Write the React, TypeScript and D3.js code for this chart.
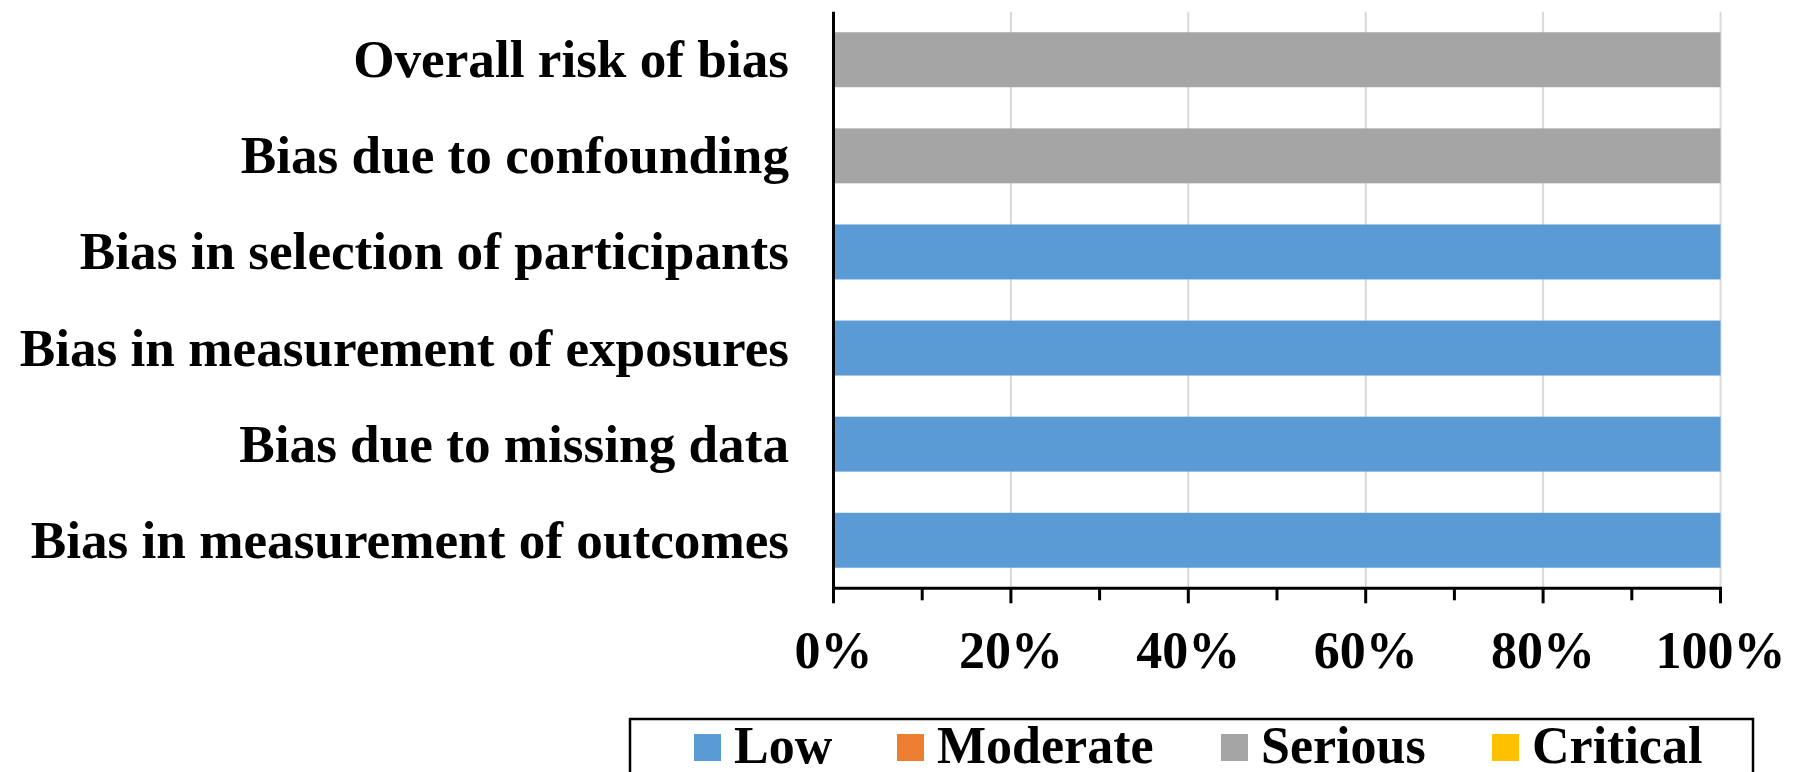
import React from "react";
import * as d3 from "d3";

const categories = [
  "Overall risk of bias",
  "Bias due to confounding",
  "Bias in selection of participants",
  "Bias in measurement of exposures",
  "Bias due to missing data",
  "Bias in measurement of outcomes",
];
const levels = ["Low", "Moderate", "Serious", "Critical"];
const lowValues = [0, 0, 1, 1, 1, 1];
const moderateValues = [0, 0, 0, 0, 0, 0];
const seriousValues = [1, 1, 0, 0, 0, 0];
const criticalValues = [0, 0, 0, 0, 0, 0];
const colors = ["#5B9BD5", "#ED7D31", "#A5A5A5", "#FFC000"];
const majorTicks = [0, 0.2, 0.4, 0.6, 0.8, 1.0];
const minorTicks = [0.1, 0.3, 0.5, 0.7, 0.9];

const W = 1804;
const H = 772;
const FONT = "'Liberation Serif', 'Times New Roman', serif";
const FS = 52;
const LABEL_FS = 53.2;

export default function App() {
  const rows = categories.map((c, i) => ({
    category: c,
    Low: lowValues[i],
    Moderate: moderateValues[i],
    Serious: seriousValues[i],
    Critical: criticalValues[i],
  }));
  const stack = d3.stack<any>().keys(levels);
  const series = stack(rows);

  const x = d3.scaleLinear().domain([0, 1]).range([833.5, 1720.5]);
  const plotTop = 11.7;
  const plotBottom = 588.3;
  const y = d3
    .scaleBand<string>()
    .domain(categories)
    .range([plotTop, plotBottom])
    .paddingInner(0.428)
    .paddingOuter(0.214);

  const legendX = [694, 897, 1221, 1492];

  return (
    <svg
      width={W}
      height={H}
      style={{ position: "absolute", left: 0, top: 0, background: "#fff" }}
      fontFamily={FONT}
      fontWeight="bold"
    >
      <rect x={0} y={0} width={W} height={H} fill="#fff" />
      {majorTicks.slice(1).map((t) => (
        <line
          key={"g" + t}
          x1={x(t)}
          x2={x(t)}
          y1={plotTop}
          y2={plotBottom}
          stroke="#d9d9d9"
          strokeWidth={2}
        />
      ))}
      {series.map((s, si) => (
        <g key={levels[si]} fill={colors[si]}>
          {s.map((d, i) =>
            d[1] - d[0] > 0 ? (
              <rect
                key={i}
                x={x(d[0])}
                y={y(categories[i])}
                width={x(d[1]) - x(d[0])}
                height={y.bandwidth()}
              />
            ) : null
          )}
        </g>
      ))}
      <line x1={x(0)} x2={x(0)} y1={plotTop} y2={plotBottom} stroke="#000" strokeWidth={3} />
      <line x1={x(0) - 1.5} x2={x(1) + 1.5} y1={plotBottom} y2={plotBottom} stroke="#000" strokeWidth={3} />
      {majorTicks.map((t) => (
        <line key={"mt" + t} x1={x(t)} x2={x(t)} y1={plotBottom} y2={plotBottom + 15} stroke="#000" strokeWidth={3} />
      ))}
      {minorTicks.map((t) => (
        <line key={"nt" + t} x1={x(t)} x2={x(t)} y1={plotBottom} y2={plotBottom + 12} stroke="#000" strokeWidth={3} />
      ))}
      {majorTicks.map((t) => (
        <text key={"tl" + t} x={x(t)} y={668} textAnchor="middle" fontSize={FS} fill="#000">
          {d3.format(".0%")(t)}
        </text>
      ))}
      {categories.map((c) => (
        <text
          key={c}
          x={789}
          y={(y(c) as number) + y.bandwidth() / 2 + 17.5}
          textAnchor="end"
          fontSize={LABEL_FS}
          fill="#000"
        >
          {c}
        </text>
      ))}
      <rect x={630} y={719} width={1123} height={80} fill="none" stroke="#000" strokeWidth={2.5} />
      {levels.map((l, i) => (
        <g key={l}>
          <rect x={legendX[i]} y={734} width={27} height={27} fill={colors[i]} />
          <text x={legendX[i] + 40} y={763} fontSize={FS} fill="#000">
            {l}
          </text>
        </g>
      ))}
    </svg>
  );
}
